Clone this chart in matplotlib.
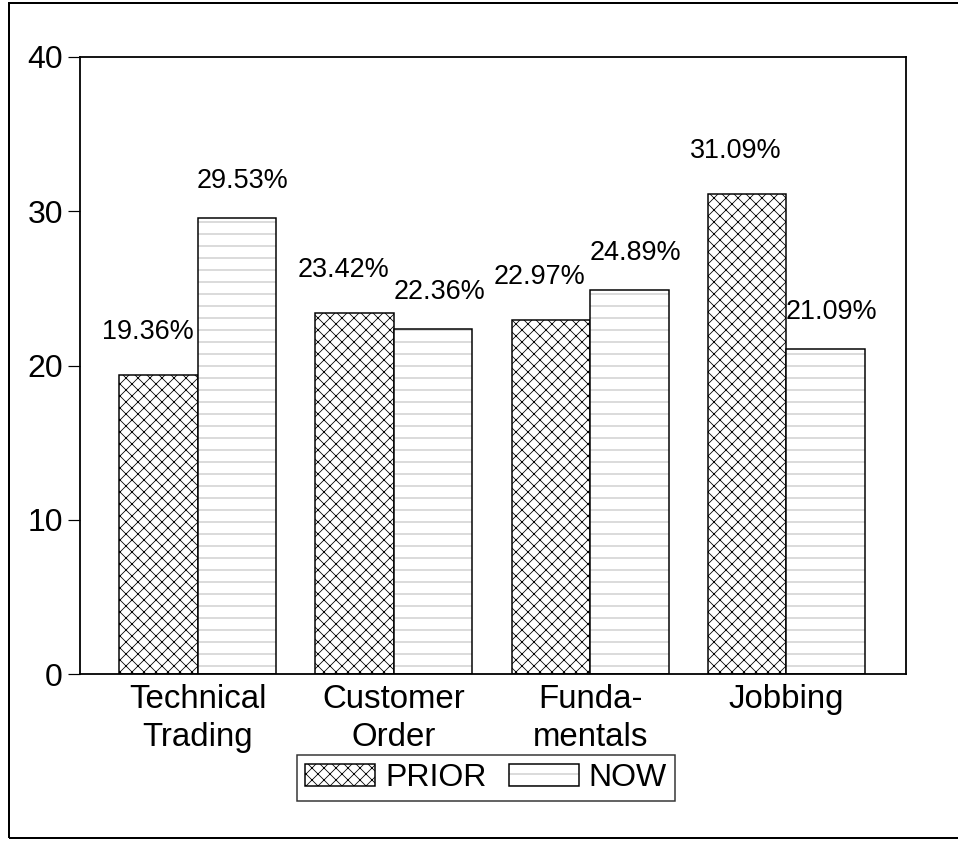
import numpy as np
import matplotlib
matplotlib.use("Agg")
import matplotlib.pyplot as plt
from matplotlib.patches import Rectangle

# data
categories = ["Technical\nTrading", "Customer\nOrder", "Funda-\nmentals", "Jobbing"]
prior = [19.36, 23.42, 22.97, 31.09]
now = [29.53, 22.36, 24.89, 21.09]
series_names = ["PRIOR", "NOW"]

plt.rcParams['font.family'] = ['Liberation Sans', 'DejaVu Sans']
plt.rcParams['hatch.linewidth'] = 0.8

# dpi 72 -> 1 pt == 1 px
fig = plt.figure(figsize=(958 / 72, 842 / 72), dpi=72)
ax = fig.add_axes([80 / 958, 1 - 674 / 842, 826 / 958, 617 / 842])

x = np.arange(len(categories))
w = 0.4

# PRIOR: black cross hatch
b1 = ax.bar(x - w / 2, prior, w, color='white', edgecolor='black', hatch='xx', linewidth=1.5)
# NOW: faint horizontal hatch, then a black outline on top
b2h = ax.bar(x + w / 2, now, w, color='white', edgecolor='0.65', hatch='-', linewidth=0)
b2 = ax.bar(x + w / 2, now, w, fill=False, edgecolor='black', linewidth=1.5)

# value labels, PRIOR sits a bit left/higher, NOW a bit right
for xi, v in zip(x - w / 2, prior):
    ax.annotate("%.2f%%" % v, (xi, v), xytext=(-11, 43), textcoords='offset points',
                ha='center', va='center', fontsize=27)
for xi, v in zip(x + w / 2, now):
    ax.annotate("%.2f%%" % v, (xi, v), xytext=(6, 37), textcoords='offset points',
                ha='center', va='center', fontsize=27)

ax.set_xlim(-0.6, 3.61)
ax.set_ylim(0, 40)
ax.set_yticks([0, 10, 20, 30, 40])
ax.set_xticks(x)
ax.set_xticklabels(categories, fontsize=33, linespacing=1.3)
ax.tick_params(axis='x', length=0, pad=10)
ax.tick_params(axis='y', labelsize=32, length=12, width=1.2, direction='out', pad=5)
for s in ax.spines.values():
    s.set_linewidth(1.8)

leg = fig.legend([b1[0], (b2h[0], b2[0])], series_names, loc='center',
                 bbox_to_anchor=(486 / 958, 1 - 778 / 842), ncol=2, fontsize=32,
                 fancybox=False, frameon=True, edgecolor='black',
                 handlelength=2.2, handleheight=0.7, handletextpad=0.3,
                 columnspacing=0.7, borderpad=0.25)
leg.get_frame().set_linewidth(1.5)

# outer frame around the figure
fig.add_artist(Rectangle((9 / 958, 4 / 842), 960 / 958, 835 / 842, transform=fig.transFigure,
                         fill=False, edgecolor='black', linewidth=2))

fig.savefig("out.png", dpi=72)
